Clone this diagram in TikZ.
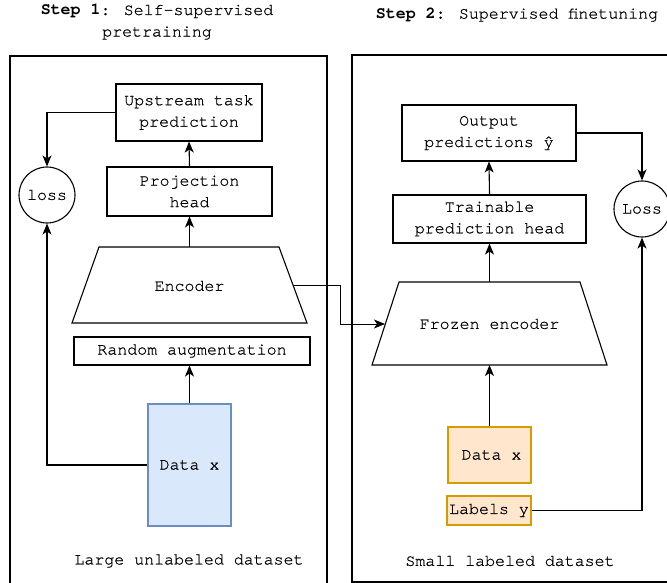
\documentclass[tikz,border=0pt]{standalone}
\usepackage{fontspec}
\setmainfont{texgyrecursor}[Extension=.otf,UprightFont=*-regular,BoldFont=*-bold,
  UprightFeatures={FakeBold=0.7}]
\usetikzlibrary{arrows.meta}
\definecolor{blueFill}{HTML}{DAE8FC}
\definecolor{blueLine}{HTML}{6C8EBF}
\definecolor{orangeFill}{HTML}{FFE6CC}
\definecolor{orangeLine}{HTML}{D79B00}
\begin{document}
\begin{tikzpicture}[x=1pt,y=-1pt,line width=1.1pt,
  font=\fontsize{16.6pt}{21.5pt}\selectfont,
  box/.style={draw,align=center,inner sep=0pt,minimum width=#1},
  lossnode/.style={draw,circle,minimum size=56pt,inner sep=0pt},
  blueData/.style={draw=blueLine,fill=blueFill,inner sep=0pt},
  orangeData/.style={draw=orangeLine,fill=orangeFill,inner sep=0pt},
  arr/.style={-{Stealth[length=11pt,width=9pt,inset=3pt]}},
  txt/.style={align=center,inner sep=0pt}]
\useasboundingbox (0,0) rectangle (667,583);

% panel frames (cut by the page edge)
\begin{scope}
  \clip (0,0) rectangle (667,583);
  \draw (10,56) rectangle (327,600);
  \draw (352,55) rectangle (690,582);
\end{scope}

% titles
\node[txt] (t1) at (157,22) {\textbf{Step 1}: Self-supervised\\pretraining};
\node[txt] (t2) at (517,15) {\textbf{Step 2}: Supervised finetuning};

% ---- step 1: pretraining ----
\node[box=146pt,minimum height=57pt] (up) at (189,112.5) {Upstream task\\prediction};
\node[box=165pt,minimum height=49pt] (proj) at (189.5,191.5) {Projection\\head};
\node[lossnode] (loss) at (47,195) {loss};
\draw (99,247) -- (279,247) -- (307,323) -- (72,323) -- cycle;
\node[txt] (enc) at (189.5,286) {Encoder};
\coordinate (encTop) at (189.5,247);
\coordinate (encOut) at (293,285);
\node[box=236pt,minimum height=28pt] (aug) at (192,351) {Random augmentation};
\node[blueData,minimum width=83pt,minimum height=122pt] (dataL) at (189.5,465) {Data x};
\node[txt] (capL) at (189,561) {Large unlabeled dataset};

\draw[arr] (proj.north) -- (up.south);
\draw[arr] (encTop) -- (proj.south);
\draw[arr] (dataL.north) -- (dataL.north |- aug.south);
\draw[arr] (up.west) -| (loss.north);
\draw[arr] (dataL.west) -| (loss.south);

% ---- step 2: finetuning ----
\node[box=174pt,minimum height=56pt] (out) at (489,133) {Output\\predictions ŷ};
\node[box=193pt,minimum height=48pt] (train) at (489.5,219) {Trainable\\prediction head};
\node[lossnode] (lossR) at (642,209) {Loss};
\draw (399,282) -- (580,282) -- (607,365) -- (372,365) -- cycle;
\node[txt] (frozen) at (489.5,324) {Frozen encoder};
\coordinate (frzTop) at (489.5,282);
\coordinate (frzBot) at (489.5,365);
\coordinate (frzIn) at (385,324);
\node[orangeData,minimum width=83pt,minimum height=56pt] (dataR) at (489.5,455) {\hspace{4pt}Data x};
\node[orangeData,minimum width=84pt,minimum height=29pt] (labels) at (489,510.5) {Labels y};
\node[txt] (capR) at (510,561) {Small labeled dataset};

\draw[arr] (train.north) -- (out.south);
\draw[arr] (frzTop) -- (train.south);
\draw[arr] (dataR.north) -- (frzBot);
\draw[arr] (out.east) -| (lossR.north);
\draw[arr] (labels.east) -| (lossR.south);

% encoder weights carried over
\draw[arr,line width=0.9pt] (encOut) -- (340,285) |- (frzIn);
\end{tikzpicture}
\end{document}
